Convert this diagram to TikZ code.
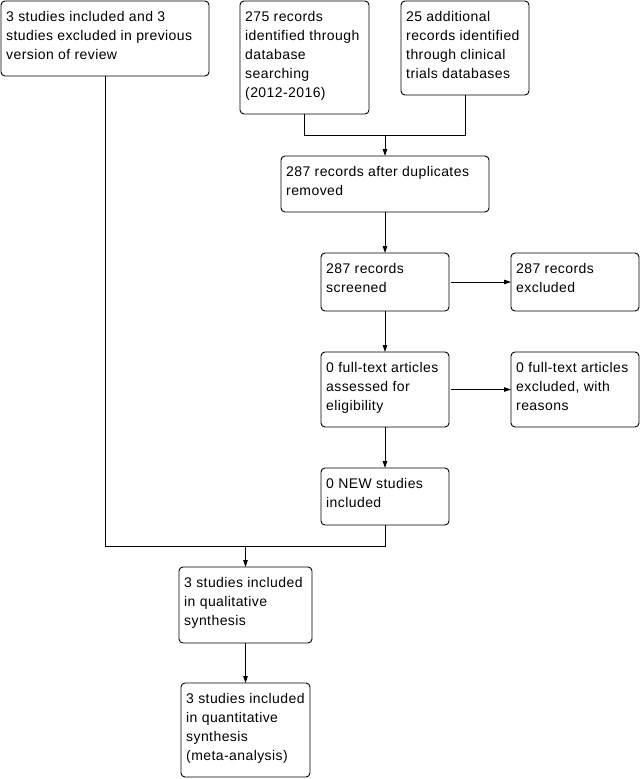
\documentclass[tikz,border=0pt]{standalone}
\usepackage{fontspec}
\setmainfont[LetterSpace=3]{Liberation Sans}
\usetikzlibrary{arrows.meta}
\begin{document}
\begin{tikzpicture}[x=1pt,y=-1pt,
  box/.style={draw, rounded corners=4pt, line width=0.9pt, anchor=north west, inner sep=0pt, outer sep=0pt},
  txt/.style={anchor=north west, inner sep=0pt, align=left, font=\fontsize{14}{19}\selectfont},
  arr/.style={-{Triangle[length=7pt,width=4.5pt]}, line width=0.9pt},
  ln/.style={line width=0.9pt}]
\useasboundingbox (0,0) rectangle (642,779);
% boxes
\node[box, minimum width=208pt, minimum height=75pt] (b1) at (1,1) {};
\node[box, minimum width=129pt, minimum height=113pt] (b2) at (240,1) {};
\node[box, minimum width=128pt, minimum height=94pt] (b3) at (401,1) {};
\node[box, minimum width=208pt, minimum height=56pt] (b4) at (281,156) {};
\node[box, minimum width=128pt, minimum height=58pt] (b5) at (321,253) {};
\node[box, minimum width=128pt, minimum height=58pt] (b6) at (511,253) {};
\node[box, minimum width=128pt, minimum height=75pt] (b7) at (321,352) {};
\node[box, minimum width=128pt, minimum height=75pt] (b8) at (511,352) {};
\node[box, minimum width=128pt, minimum height=57pt] (b9) at (321,468) {};
\node[box, minimum width=133pt, minimum height=76pt] (b10) at (179,567) {};
\node[box, minimum width=129pt, minimum height=94pt] (b11) at (181,683) {};
% texts
\node[txt] (t1) at (6,11.5) {3 studies included and 3\\studies excluded in previous\\version of review};
\node[txt] (t2) at (245,11.5) {275 records\\identified through\\database\\searching\\(2012-2016)};
\node[txt] (t3) at (406,11.5) {25 additional\\records identified\\through clinical\\trials databases};
\node[txt] (t4) at (286,166.5) {287 records after duplicates\\removed};
\node[txt] (t5) at (326,263.5) {287 records\\screened};
\node[txt] (t6) at (516,263.5) {287 records\\excluded};
\node[txt] (t7) at (326,362.5) {0 full-text articles\\assessed for\\eligibility};
\node[txt] (t8) at (516,362.5) {0 full-text articles\\excluded, with\\reasons};
\node[txt] (t9) at (326,478.5) {0 NEW studies\\included};
\node[txt] (t10) at (184,577.5) {3 studies included\\in qualitative\\synthesis};
\node[txt] (t11) at (186,693.5) {3 studies included\\in quantitative\\synthesis\\(meta-analysis)};
% connectors
\coordinate (j1) at (0,135);
\coordinate (j2) at (0,546);
\draw[ln] (b2.south) -- (b2.south |- j1) -- (b3.south |- j1) -- (b3.south);
\draw[arr] (b4.north |- j1) -- (b4.north);
\draw[arr] (b4.south) -- (b5.north);
\draw[arr] ([xshift=2pt]b5.east) -- (b6.west);
\draw[arr] (b5.south) -- (b7.north);
\draw[arr] ([xshift=2pt]b7.east) -- (b8.west);
\draw[arr] (b7.south) -- (b9.north);
\draw[ln] (b1.south) -- (b1.south |- j2) -- (b9.south |- j2) -- (b9.south);
\draw[arr] (b10.north |- j2) -- (b10.north);
\draw[arr] (b10.south) -- (b11.north);
\end{tikzpicture}
\end{document}
